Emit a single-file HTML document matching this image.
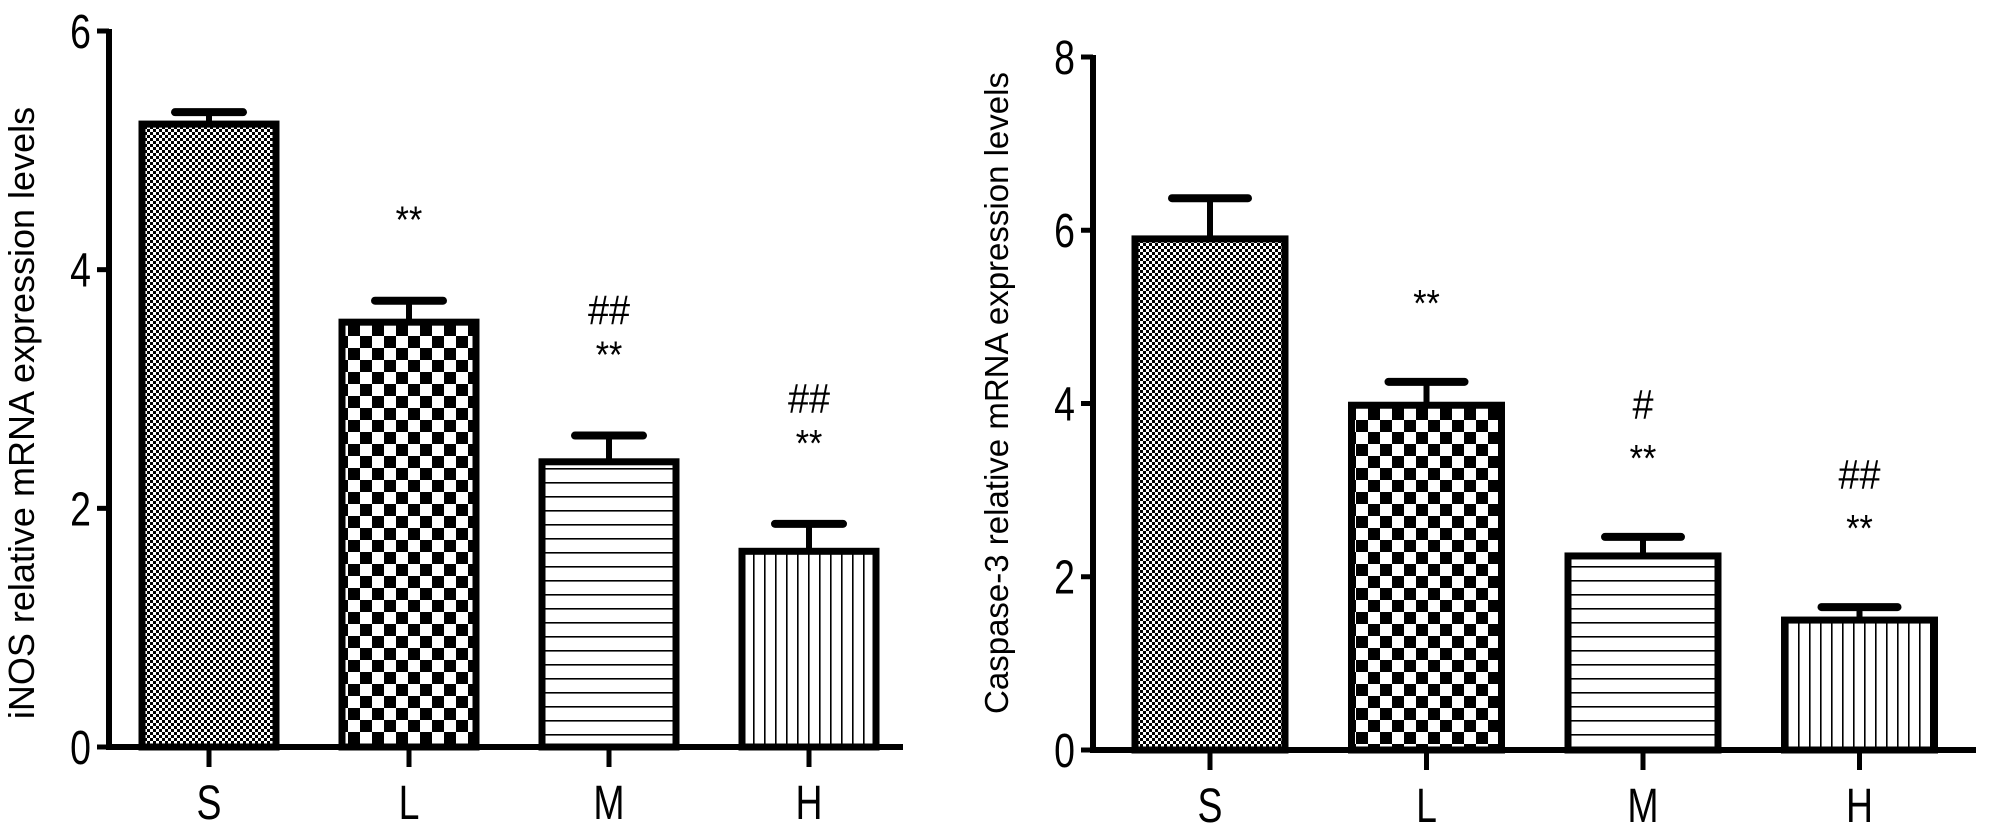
<!DOCTYPE html>
<html><head><meta charset="utf-8"><style>
html,body{margin:0;padding:0;background:#fff;}
svg{display:block;font-family:"Liberation Sans",Arial,sans-serif;}
</style></head><body>
<svg id="svg" width="2008" height="827" viewBox="0 0 2008 827" xmlns="http://www.w3.org/2000/svg">
<defs>
<pattern id="pS" width="6" height="6" patternUnits="userSpaceOnUse"><rect width="6" height="6" fill="#fff"/><rect width="3" height="3" fill="#000"/><rect x="3" y="3" width="3" height="3" fill="#000"/></pattern>
<pattern id="pL" width="24" height="24" patternUnits="userSpaceOnUse"><rect width="24" height="24" fill="#fff"/><rect width="12" height="12" fill="#000"/><rect x="12" y="12" width="12" height="12" fill="#000"/></pattern>
<pattern id="pM" width="10" height="14" patternUnits="userSpaceOnUse"><rect width="10" height="14" fill="#fff"/><rect y="6" width="10" height="1.6" fill="#000"/></pattern>
<pattern id="pH" width="11" height="10" patternUnits="userSpaceOnUse"><rect width="11" height="10" fill="#fff"/><rect x="5" width="1.6" height="10" fill="#000"/></pattern>
</defs>
</svg>
<script>
const categories = ["S","L","M","H"];
const leftValues = [5.22, 3.56, 2.39, 1.64];
const leftErrors = [0.10, 0.18, 0.22, 0.23];
const leftTicks = [0, 2, 4, 6];
const leftAnnot = [[], ["**"], ["**","##"], ["**","##"]];
const rightValues = [5.9, 3.98, 2.24, 1.5];
const rightErrors = [0.47, 0.27, 0.22, 0.15];
const rightTicks = [0, 2, 4, 6, 8];
const rightAnnot = [[], ["**"], ["**","#"], ["**","##"]];
const patterns = ["pS","pL","pM","pH"];

const svg = document.getElementById('svg');
const NS = "http://www.w3.org/2000/svg";
function mk(tag, attrs, parent){
  const e = document.createElementNS(NS, tag);
  for (const k in attrs) e.setAttribute(k, attrs[k]);
  (parent||svg).appendChild(e);
  return e;
}
function sx(cx, s){ return 'translate(' + cx + ',0) scale(' + s + ',1) translate(' + (-cx) + ',0)'; }
function chart(cfg){
  const g = mk('g', {});
  
  
  const y = v => cfg.y0 - (v - 0) * (cfg.y0 - cfg.yTop) / cfg.yMax;
  const x = i => cfg.x0 + i * cfg.step;
  cfg.values.forEach((v, i) => {
    const cx = x(i), top = y(v), errTop = y(v + cfg.errors[i]);
    const el = mk('line', {x1:cx, x2:cx, y1:top, y2:errTop, stroke:'#000', 'stroke-width':6}, g);
    
    
    const cap = mk('line', {x1:cx - cfg.cap, x2:cx + cfg.cap, y1:errTop, y2:errTop, stroke:'#000', 'stroke-width':8, 'stroke-linecap':'round'}, g);
    
    
    const r = mk('rect', {x:cx - cfg.bw/2, y:top, width:cfg.bw, height:cfg.y0 - top, fill:'url(#' + patterns[i] + ')', stroke:'#000', 'stroke-width':7}, g);
    
    
    cfg.annot[i].forEach((a, k) => {
      const ty = errTop - cfg.annGap - k * cfg.annStep;
      const t = mk('text', {x:cx, y:ty, 'text-anchor':'middle', 'font-size':a === '**' ? 38 : 42, fill:'#000', transform:sx(cx, 0.9)}, g);
      t.textContent = a;
      
      
    });
    mk('line', {x1:cx, x2:cx, y1:cfg.y0, y2:cfg.y0 + 20, stroke:'#000', 'stroke-width':5}, g);
    const lb = mk('text', {x:cx, y:cfg.y0 + 72, 'text-anchor':'middle', 'font-size':48, fill:'#000', transform:sx(cx, 0.78)}, g);
    lb.textContent = categories[i];
    
    
  });
  const ya = mk('line', {x1:cfg.ax, x2:cfg.ax, y1:cfg.yTop - 2, y2:cfg.y0 + 3, stroke:'#000', 'stroke-width':6}, g);
  
  
  const xa = mk('line', {x1:cfg.ax - 3, x2:cfg.xEnd, y1:cfg.y0, y2:cfg.y0, stroke:'#000', 'stroke-width':6}, g);
  
  
  cfg.ticks.forEach(t => {
    const ty = y(t);
    mk('line', {x1:cfg.ax - 12, x2:cfg.ax, y1:ty, y2:ty, stroke:'#000', 'stroke-width':5}, g);
    const tx = cfg.ax - 18;
    const tl = mk('text', {x:tx, y:ty + 17, 'text-anchor':'end', 'font-size':48, fill:'#000', transform:sx(tx, 0.78)}, g);
    tl.textContent = t;
    
    
  });
  const tt = mk('text', {x:0, y:0, 'text-anchor':'middle', 'font-size':cfg.titleSize, fill:'#000', transform:'translate(' + cfg.titleX + ',' + cfg.titleY + ') rotate(-90)'}, g);
  tt.textContent = cfg.title;
  
  
}
chart({name:'inos-chart', values:leftValues, errors:leftErrors, ticks:leftTicks, annot:leftAnnot,
  y0:747, yTop:31, yMax:6, x0:209, step:200, bw:134, cap:34, ax:109, xEnd:903,
  annGap:68, annStep:43, title:'iNOS relative mRNA expression  levels', titleX:34, titleY:413, titleSize:36});
chart({name:'caspase-chart', values:rightValues, errors:rightErrors, ticks:rightTicks, annot:rightAnnot,
  y0:750, yTop:57, yMax:8, x0:1210, step:216.5, bw:150, cap:38, ax:1093, xEnd:1976,
  annGap:66, annStep:52, title:'Caspase-3 relative mRNA expression  levels', titleX:1008, titleY:393, titleSize:33});
</script>
</body></html>
